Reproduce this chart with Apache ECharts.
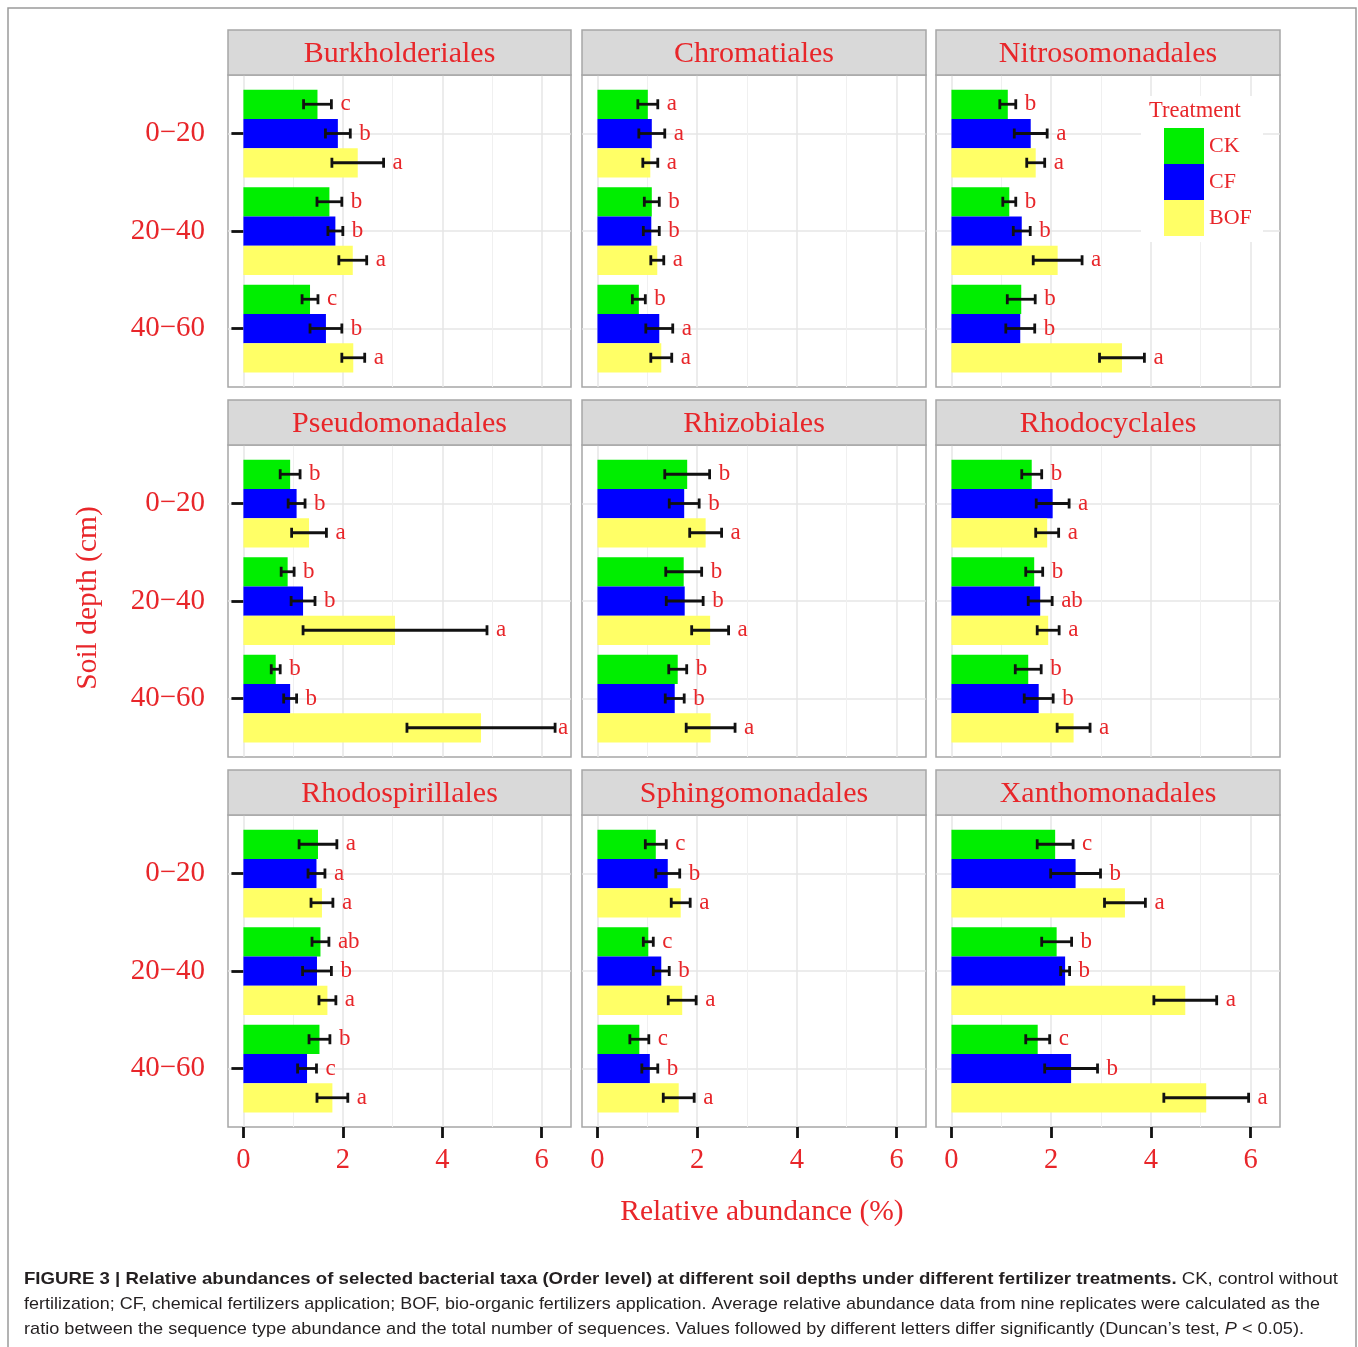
<!DOCTYPE html>
<html><head><meta charset="utf-8">
<script src="https://cdn.jsdelivr.net/npm/echarts@6.0.0/dist/echarts.min.js"></script>
<style>html,body{margin:0;padding:0;background:#fff}#c{width:1358px;height:1347px}</style>
</head><body><div id="c"></div>
<script>
// ---------- data ----------
const taxa = ['Burkholderiales','Chromatiales','Nitrosomonadales','Pseudomonadales','Rhizobiales','Rhodocyclales','Rhodospirillales','Sphingomonadales','Xanthomonadales'];
const depths = ['0\u221220','20\u221240','40\u221260'];
const treatments = ['CK','CF','BOF'];
const xTicks = [0,2,4,6];
const xMinor = [1,3,5];

const meanCK = [[1.49,1.73,1.34],[1.01,1.09,0.83],[1.13,1.16,1.40],[0.94,0.89,0.65],[1.80,1.73,1.61],[1.61,1.66,1.54],[1.50,1.55,1.53],[1.17,1.02,0.84],[2.08,2.11,1.73]];
const errCK  = [[0.28,0.25,0.16],[0.20,0.15,0.13],[0.16,0.13,0.28],[0.20,0.13,0.09],[0.45,0.36,0.18],[0.20,0.17,0.26],[0.38,0.17,0.21],[0.21,0.10,0.19],[0.36,0.30,0.24]];
const meanCF = [[1.90,1.85,1.66],[1.09,1.08,1.24],[1.59,1.41,1.38],[1.07,1.20,0.94],[1.74,1.75,1.55],[2.03,1.78,1.75],[1.47,1.48,1.28],[1.41,1.28,1.05],[2.49,2.28,2.40]];
const errCF  = [[0.25,0.15,0.32],[0.26,0.16,0.27],[0.33,0.17,0.29],[0.17,0.24,0.13],[0.30,0.37,0.19],[0.33,0.24,0.29],[0.17,0.29,0.19],[0.24,0.16,0.16],[0.50,0.09,0.53]];
const meanBOF = [[2.30,2.20,2.21],[1.06,1.20,1.28],[1.69,2.13,3.42],[1.32,3.05,4.78],[2.17,2.26,2.27],[1.92,1.94,2.45],[1.58,1.69,1.79],[1.67,1.70,1.63],[3.48,4.69,5.11]];
const errBOF  = [[0.52,0.28,0.23],[0.15,0.13,0.21],[0.18,0.49,0.45],[0.35,1.85,1.49],[0.32,0.37,0.49],[0.23,0.22,0.33],[0.22,0.17,0.31],[0.19,0.28,0.31],[0.41,0.63,0.85]];
const lettersCK = [['c','b','c'],['a','b','b'],['b','b','b'],['b','b','b'],['b','b','b'],['b','b','b'],['a','ab','b'],['c','c','c'],['c','b','c']];
const lettersCF = [['b','b','b'],['a','b','a'],['a','b','b'],['b','b','b'],['b','b','b'],['a','ab','b'],['a','b','c'],['b','b','b'],['b','b','b']];
const lettersBOF = [['a','a','a'],['a','a','a'],['a','a','a'],['a','a','a'],['a','a','a'],['a','a','a'],['a','a','a'],['a','a','a'],['a','a','a']];

// ---------- styling ----------
const means = [meanCK, meanCF, meanBOF];
const errs = [errCK, errCF, errBOF];
const letters = [lettersCK, lettersCF, lettersBOF];
const colors = ['#00ee00', '#0000ff', '#ffff66'];
const dodge = [-0.3, 0, 0.3];
const RED = '#e8262a';
const SERIF = 'Liberation Serif';
const colLeft = [228, 582, 936], colW = [343, 344, 344];
const rowTop = [75, 445, 815], rowH = 312, stripH = 45;
const XMIN = -0.31, XMAX = 6.59;

const chart = echarts.init(document.getElementById('c'), null, {renderer: 'canvas'});
const grid = [], xAxis = [], yAxis = [], series = [], graphic = [];

function makeRender(i, t) {
  return function (params, api) {
    const m = api.value(0), y = api.value(1), e = api.value(2);
    const p0 = api.coord([0, y]);
    const p1 = api.coord([m, y]);
    const pl = api.coord([m - e, y]);
    const pr = api.coord([m + e, y]);
    const h = Math.abs(api.size([0, 0.3])[1]);
    const cs = params.coordSys;
    const cap = 10;
    const lx = Math.min(pr[0] + 9, cs.x + cs.width - 13);
    const st = {stroke: '#111', lineWidth: 2.8};
    return {
      type: 'group',
      children: [
        {type: 'rect', shape: {x: p0[0], y: p0[1] - h / 2, width: p1[0] - p0[0], height: h}, style: {fill: colors[t]}},
        {type: 'line', shape: {x1: pl[0], y1: pl[1], x2: pr[0], y2: pr[1]}, style: st},
        {type: 'line', shape: {x1: pl[0], y1: pl[1] - cap / 2, x2: pl[0], y2: pl[1] + cap / 2}, style: st},
        {type: 'line', shape: {x1: pr[0], y1: pr[1] - cap / 2, x2: pr[0], y2: pr[1] + cap / 2}, style: st},
        {type: 'text', style: {text: letters[t][i][params.dataIndex], x: lx, y: pr[1], align: 'left', verticalAlign: 'middle', fill: RED, fontFamily: SERIF, fontSize: 23}}
      ]
    };
  };
}

for (let i = 0; i < 9; i++) {
  const r = Math.floor(i / 3), c = i % 3;
  grid.push({left: colLeft[c], top: rowTop[r], width: colW[c], height: rowH, show: true, borderColor: '#a6a6a6', borderWidth: 1.5});
  xAxis.push({
    gridIndex: i, type: 'value', min: XMIN, max: XMAX, position: 'bottom',
    axisLine: {show: false},
    axisTick: {show: r === 2, customValues: xTicks, length: 11, lineStyle: {color: '#111', width: 2.8}},
    axisLabel: {show: r === 2, customValues: xTicks, color: RED, fontFamily: SERIF, fontSize: 28.5, margin: 19},
    splitLine: {show: true, lineStyle: {color: '#e6e6e6', width: 1.5}}
  });
  xAxis.push({
    gridIndex: i, type: 'value', min: XMIN, max: XMAX, position: 'top',
    axisLine: {show: false},
    axisTick: {show: false, customValues: xMinor},
    axisLabel: {show: false},
    splitLine: {show: true, lineStyle: {color: '#f0f0f0', width: 1}}
  });
  yAxis.push({
    gridIndex: i, type: 'value', min: 0.4, max: 3.6, inverse: true,
    axisLine: {show: false},
    axisTick: {show: c === 0, customValues: [1, 2, 3], length: 12, lineStyle: {color: '#111', width: 2.8}},
    axisLabel: {show: c === 0, customValues: [1, 2, 3], formatter: v => depths[Math.round(v) - 1], color: RED, fontFamily: SERIF, fontSize: 29, margin: 23},
    splitLine: {show: true, lineStyle: {color: '#e6e6e6', width: 1.5}}
  });
  for (let t = 0; t < 3; t++) {
    series.push({
      type: 'custom', name: treatments[t], xAxisIndex: 2 * i, yAxisIndex: i,
      itemStyle: {color: colors[t]}, encode: {x: 0, y: 1}, z: 2, clip: false,
      data: depths.map((d, k) => [means[t][i][k], k + 1 + dodge[t], errs[t][i][k]]),
      renderItem: makeRender(i, t)
    });
  }
  // strip
  const sTop = rowTop[r] - stripH;
  graphic.push({type: 'rect', shape: {x: colLeft[c], y: sTop, width: colW[c], height: stripH}, style: {fill: '#d9d9d9', stroke: '#a6a6a6', lineWidth: 1.5}, z: 1});
  graphic.push({type: 'text', x: colLeft[c] + colW[c] / 2, y: sTop + stripH / 2 + 1.5, style: {text: taxa[i], align: 'center', verticalAlign: 'middle', fill: RED, fontFamily: SERIF, fontSize: 30}, z: 2});
}

// outer frame
graphic.push({type: 'rect', shape: {x: 8, y: 8, width: 1348, height: 1360}, style: {fill: 'none', stroke: '#9a9a9a', lineWidth: 1.5}, z: 1});
// legend background and title
graphic.push({type: 'rect', shape: {x: 1141, y: 96, width: 122, height: 146}, style: {fill: '#fff'}, z: 1});
graphic.push({type: 'text', x: 1149, y: 111, style: {text: 'Treatment', align: 'left', verticalAlign: 'middle', fill: RED, fontFamily: SERIF, fontSize: 22.5}, z: 5});
// axis titles
graphic.push({type: 'text', x: 762, y: 1212, style: {text: 'Relative abundance (%)', align: 'center', verticalAlign: 'middle', fill: RED, fontFamily: SERIF, fontSize: 29.5}, z: 5});
graphic.push({type: 'text', x: 88, y: 598, rotation: Math.PI / 2, style: {text: 'Soil depth (cm)', align: 'center', verticalAlign: 'middle', fill: RED, fontFamily: SERIF, fontSize: 29.5}, z: 5});

// caption
const capBold = 'FIGURE 3 | Relative abundances of selected bacterial taxa (Order level) at different soil depths under different fertilizer treatments.';
const cap1 = ' CK, control without';
const cap2 = 'fertilization; CF, chemical fertilizers application; BOF, bio-organic fertilizers application. Average relative abundance data from nine replicates were calculated as the';
const cap3a = 'ratio between the sequence type abundance and the total number of sequences. Values followed by different letters differ significantly (Duncan\u2019s test, ';
const cap3b = 'P';
const cap3c = ' < 0.05).';
const CAPF = 'Liberation Sans', CAPS = 17, CAPC = '#231f20';
const ctx = document.createElement('canvas').getContext('2d');
function tw(s, pre) { ctx.font = pre + CAPS + "px '" + CAPF + "'"; return ctx.measureText(s).width; }
const lineW = [
  tw(capBold, 'bold ') + tw(cap1, ''),
  tw(cap2, ''),
  tw(cap3a, '') + tw(cap3b, 'italic ') + tw(cap3c, '')
];
const targetW = [1314, 1296, 1280];
const rich = {
  b: {fontWeight: 'bold', fontSize: CAPS, fontFamily: CAPF, fill: CAPC},
  n: {fontSize: CAPS, fontFamily: CAPF, fill: CAPC},
  i: {fontStyle: 'italic', fontSize: CAPS, fontFamily: CAPF, fill: CAPC}
};
const capLines = ['{b|' + capBold + '}{n|' + cap1 + '}', '{n|' + cap2 + '}', '{n|' + cap3a + '}{i|' + cap3b + '}{n|' + cap3c + '}'];
const capY = [1279, 1304, 1329];
capLines.forEach((txt, k) => {
  graphic.push({type: 'text', x: 24, y: capY[k], scaleX: targetW[k] / lineW[k], style: {text: txt, rich: rich, x: 0, y: 0, align: 'left', verticalAlign: 'middle', fontSize: CAPS, fontFamily: CAPF, fill: CAPC}, z: 5});
});

chart.setOption({
  animation: false,
  backgroundColor: '#fff',
  grid: grid, xAxis: xAxis, yAxis: yAxis, series: series,
  legend: {
    data: treatments, orient: 'vertical', left: 1164, top: 128, padding: 0,
    itemWidth: 40, itemHeight: 36, itemGap: 0, icon: 'rect', selectedMode: false,
    textStyle: {color: RED, fontFamily: SERIF, fontSize: 22}, z: 6
  },
  graphic: graphic
});
</script></body></html>
